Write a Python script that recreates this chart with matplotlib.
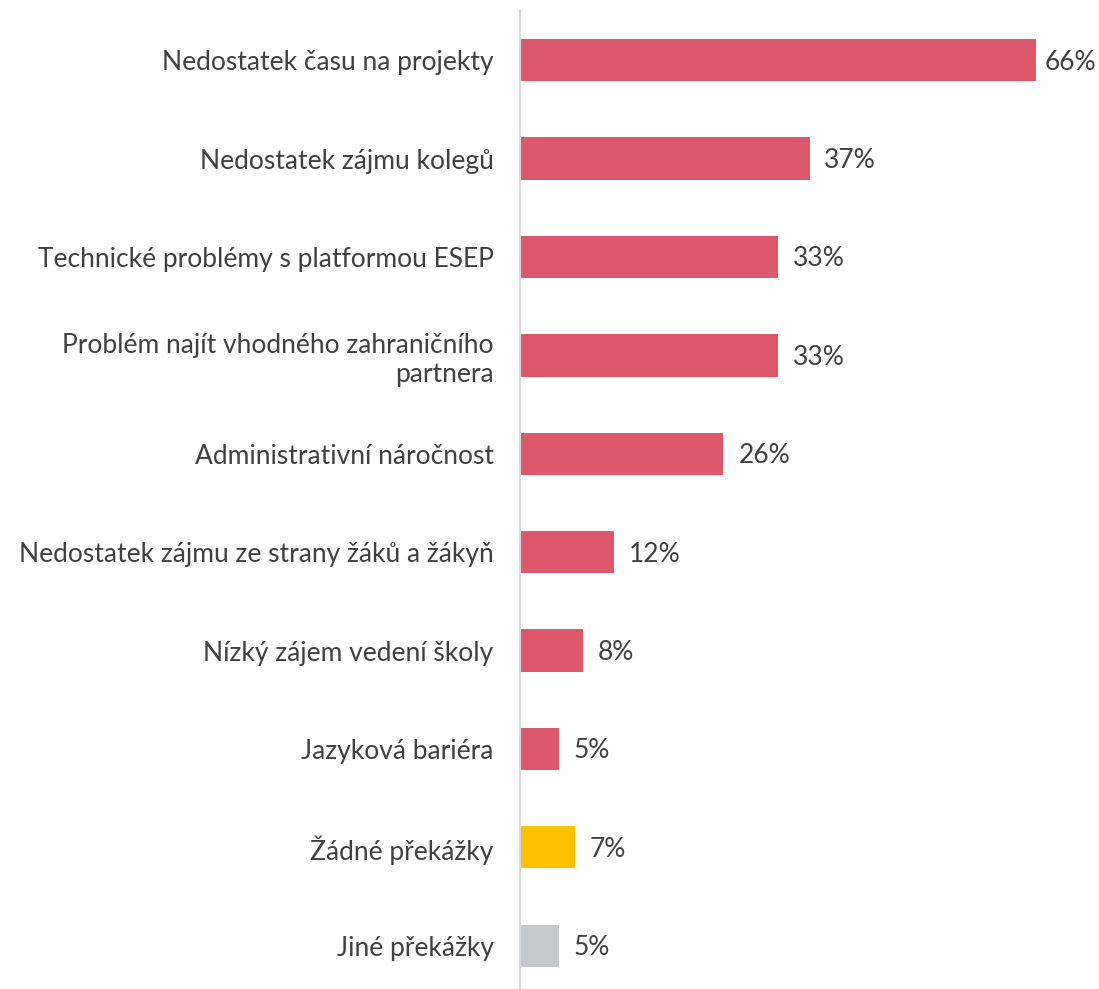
import matplotlib.pyplot as plt
import numpy as np

categories = [
    "Nedostatek času na projekty",
    "Nedostatek zájmu kolegů",
    "Technické problémy s platformou ESEP",
    "Problém najít vhodného zahraničního\npartnera",
    "Administrativní náročnost",
    "Nedostatek zájmu ze strany žáků a žákyň",
    "Nízký zájem vedení školy",
    "Jazyková bariéra",
    "Žádné překážky",
    "Jiné překážky",
]
values = [66, 37, 33, 33, 26, 12, 8, 5, 7, 5]
colors = ["#DC586B"] * 8 + ["#FFC000", "#C5C8CC"]

plt.rcParams['font.family'] = ['Lato', 'DejaVu Sans']
text_color = "#404040"

fig = plt.figure(figsize=(10.99, 9.89), dpi=100)
ax = fig.add_axes([520 / 1099, 0, 1 - 520 / 1099, 1 - 10 / 989])

y = np.arange(len(categories))
ax.barh(y, values, height=0.43, color=colors)

# labels sit right of the bar, pulled back if they would run off the edge
for yi, v in zip(y, values):
    ax.text(min(v + 1.9, 67), yi + 0.02, f"{v}%", va="center", ha="left",
            fontsize=19, color=text_color)

ax.set_xlim(0, 74)
ax.set_ylim(9.44, -0.51)
ax.set_yticks(y)
ax.set_yticklabels(categories, fontsize=19, color=text_color, linespacing=1.2)
ax.tick_params(axis="y", length=0, pad=19)
ax.set_xticks([])
for side in ["top", "right", "bottom"]:
    ax.spines[side].set_visible(False)
ax.spines["left"].set_color("#D9D9D9")
ax.spines["left"].set_linewidth(1.5)

fig.savefig("out.png", dpi=100)
